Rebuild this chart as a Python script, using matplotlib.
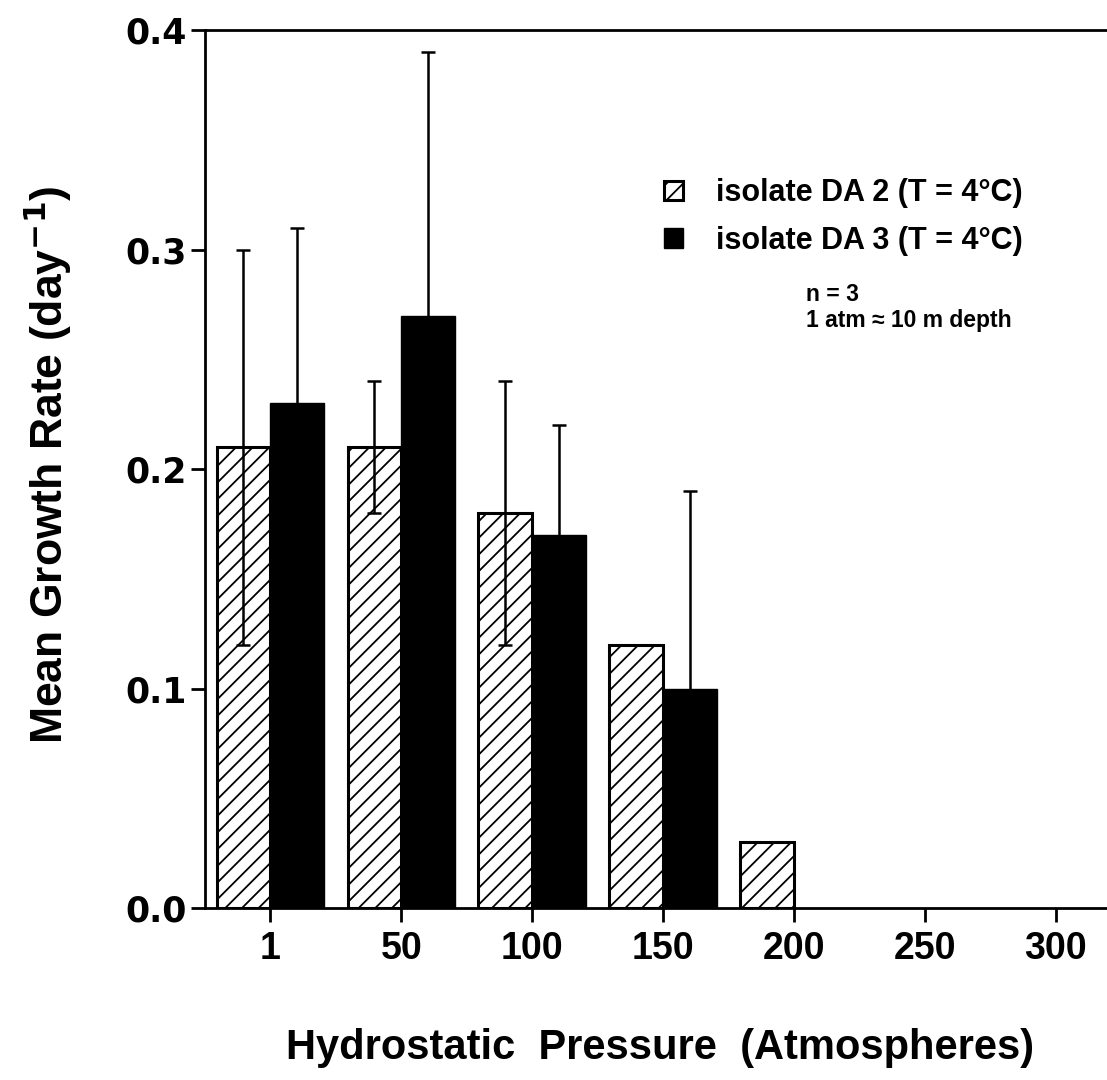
import matplotlib.pyplot as plt
import numpy as np

plt.rcParams['font.family'] = ['Liberation Sans', 'DejaVu Sans']
plt.rcParams['font.weight'] = 'bold'
plt.rcParams['hatch.linewidth'] = 1.3

pressures = ['1', '50', '100', '150', '200', '250', '300']
da2_rate = [0.21, 0.21, 0.18, 0.12, 0.03, 0.0, 0.0]
da2_err = [0.09, 0.03, 0.06, 0.0, 0.0, 0.0, 0.0]
da3_rate = [0.23, 0.27, 0.17, 0.10, 0.0, 0.0, 0.0]
da3_err = [0.08, 0.12, 0.05, 0.09, 0.0, 0.0, 0.0]

x = np.arange(len(pressures))
w = 0.41

fig = plt.figure(figsize=(11.07, 10.8), dpi=100)
ax = fig.add_axes([0.185, 0.159, 0.815, 0.813])

# only draw bars where there was growth
m2 = np.array(da2_rate) > 0
m3 = np.array(da3_rate) > 0
b2 = ax.bar(x[m2] - w / 2, np.array(da2_rate)[m2], w, color='white',
            edgecolor='black', linewidth=2.2, hatch='//', zorder=2,
            label='isolate DA 2 (T = 4°C)')
b3 = ax.bar(x[m3] + w / 2, np.array(da3_rate)[m3], w, color='black',
            edgecolor='black', linewidth=1, zorder=2,
            label='isolate DA 3 (T = 4°C)')

e2 = np.array(da2_err)
ax.errorbar(x[e2 > 0] - w / 2, np.array(da2_rate)[e2 > 0], yerr=e2[e2 > 0],
            fmt='none', ecolor='black', elinewidth=1.8, capsize=5, capthick=1.8,
            zorder=3)
e3 = np.array(da3_err)
ax.errorbar(x[e3 > 0] + w / 2, np.array(da3_rate)[e3 > 0], yerr=e3[e3 > 0],
            fmt='none', ecolor='black', elinewidth=1.8, capsize=5, capthick=1.8,
            zorder=1)

ax.set_xlim(-0.5, 6.39)
ax.set_ylim(0, 0.4)
ax.set_xticks(x)
ax.set_xticklabels(pressures, family=['Liberation Sans Narrow', 'Liberation Sans'],
                   fontsize=27, fontweight='bold')
ax.set_yticks([0.0, 0.1, 0.2, 0.3, 0.4])
ax.set_yticklabels(['0.0', '0.1', '0.2', '0.3', '0.4'], family='DejaVu Sans',
                   fontsize=25, fontweight='bold')
ax.tick_params(axis='both', direction='out', length=10, width=2)
ax.tick_params(axis='x', pad=6)
ax.tick_params(axis='y', pad=3)

ax.spines['right'].set_visible(False)
for s in ['left', 'top', 'bottom']:
    ax.spines[s].set_linewidth(2)

ax.set_ylabel('Mean Growth Rate (day$^{\\mathbf{-1}}$)', fontsize=32,
              fontweight='bold')
ax.yaxis.set_label_coords(-0.145, 0.505)
ax.set_xlabel('Hydrostatic  Pressure  (Atmospheres)', fontsize=30,
              fontweight='bold', va='center')
ax.xaxis.set_label_coords(0.505, -0.159)

ax.legend(handles=[b2, b3], loc='upper left', bbox_to_anchor=(0.479, 0.863),
          frameon=False, handlelength=0.6, handleheight=0.6,
          labelspacing=0.58, handletextpad=1.1,
          prop={'weight': 'bold', 'size': 22})

ax.text(0.666, 0.712, 'n = 3\n1 atm ≈ 10 m depth', transform=ax.transAxes,
        fontsize=16.5, fontweight='bold', va='top', linespacing=1.15)

fig.savefig('out.png', dpi=100)
